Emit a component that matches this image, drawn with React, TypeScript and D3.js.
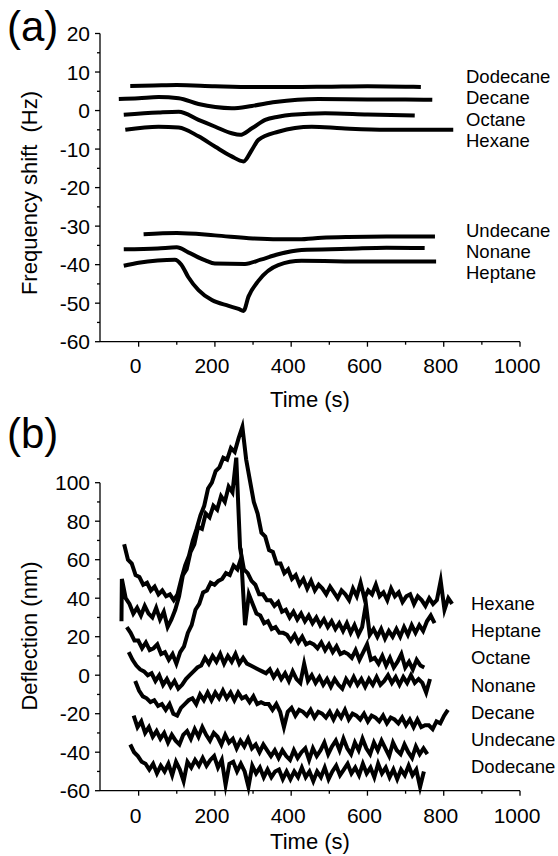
import React from 'react';
import * as d3 from 'd3';

const W = 558;
const H = 856;
const FONT = "'Liberation Sans', Arial, Helvetica, sans-serif";

// ---------- Panel (a): frequency shift (Hz) vs time (s) ----------
const aDodecane: [number, number][] = [[-22, 6.4], [40, 6.5], [100, 6.6], [200, 6.3], [300, 6.1], [400, 6.1], [500, 6.2], [600, 6.3], [700, 6.2], [740, 6.1]];
const aDecane: [number, number][] = [[-52, 3.0], [0, 3.2], [52, 3.5], [105, 3.2], [157, 1.7], [201, 0.9], [244, 0.6], [297, 1.2], [358, 2.2], [471, 3.0], [600, 2.9], [700, 2.9], [770, 2.8]];
const aOctane: [number, number][] = [[-39, -1.1], [52, -0.5], [105, -0.3], [157, -2.4], [201, -4.2], [244, -5.9], [266, -6.3], [297, -4.6], [332, -2.4], [366, -1.6], [401, -1.1], [489, -0.7], [600, -1.0], [724, -1.3]];
const aHexane: [number, number][] = [[-35, -5.0], [52, -4.2], [105, -4.4], [157, -6.7], [201, -9.4], [244, -11.9], [275, -13.2], [297, -10.2], [314, -7.6], [366, -5.5], [454, -4.2], [532, -4.6], [650, -5.0], [825, -5.0]];
const aUndecane: [number, number][] = [[13, -32.1], [100, -31.8], [200, -32.4], [300, -33.2], [366, -33.4], [420, -33.4], [480, -33.0], [550, -32.8], [650, -32.7], [777, -32.7]];
const aNonane: [number, number][] = [[-39, -36.0], [50, -35.8], [100, -35.5], [130, -36.8], [175, -38.9], [200, -39.7], [279, -39.8], [320, -38.7], [366, -37.3], [427, -36.2], [550, -35.9], [650, -35.6], [750, -35.7]];
const aHeptane: [number, number][] = [[-39, -40.3], [0, -39.5], [50, -38.9], [95, -38.7], [112, -40.0], [130, -43.2], [157, -46.6], [192, -49.2], [236, -50.7], [262, -51.5], [275, -52.0], [288, -48.3], [314, -44.2], [366, -40.1], [427, -39.0], [600, -39.2], [780, -39.2]];

const aTopNames = ['Dodecane', 'Decane', 'Octane', 'Hexane'];
const aBottomNames = ['Undecane', 'Nonane', 'Heptane'];
const aYTicks = [-60, -50, -40, -30, -20, -10, 0, 10, 20];
const aYMinor = [-55, -45, -35, -25, -15, -5, 5, 15];

// ---------- Panel (b): deflection (nm) vs time (s), sampled every 10 s ----------
const bStep = 10;
const bHexaneT0 = -38;
const bHexane = [68, 60, 58, 52, 51, 47, 48, 44, 46, 42, 44, 41, 42, 39, 42, 50, 57, 62, 70, 76, 83, 88, 97, 100, 106, 108, 113, 112, 118, 116, 123, 129, 112, 101, 90, 84, 74, 72, 65, 64, 58, 58, 53, 55, 50, 52, 47, 50, 45, 49, 44, 47, 45, 42, 46, 43, 40, 44, 42, 39, 45, 41, 48, 40, 44, 42, 47, 41, 43, 39, 45, 41, 43, 38, 41, 42, 37, 41, 39, 36, 40, 37, 39, 49, 34, 40, 37];
const bHeptaneLead: [number, number][] = [[-45, 28]];
const bHeptaneT0 = -44;
const bHeptane = [50, 40, 37, 32, 35, 31, 36, 32, 30, 35, 29, 33, 25, 29, 34, 41, 52, 55, 64, 68, 77, 76, 84, 82, 88, 86, 93, 90, 98, 95, 113, 66, 55, 53, 49, 47, 42, 42, 39, 39, 36, 38, 33, 34, 30, 33, 29, 32, 28, 31, 27, 30, 26, 29, 25, 28, 24, 27, 23, 27, 22, 26, 21, 25, 37, 21, 24, 20, 24, 19, 23, 20, 24, 20, 25, 21, 26, 22, 26, 23, 28, 31, 27];
const bOctaneT0 = -31;
const bOctane = [25, 22, 18, 18, 14, 17, 13, 14, 16, 11, 12, 8, 11, 6, 12, 15, 22, 26, 34, 37, 43, 44, 48, 47, 49, 50, 53, 52, 57, 55, 61, 26, 42, 37, 32, 31, 27, 28, 24, 25, 22, 22, 21, 18, 21, 17, 20, 16, 17, 16, 14, 17, 13, 16, 12, 15, 11, 12, 11, 9, 13, 8, 12, 16, 8, 9, 6, 10, 5, 9, 4, 7, 11, 4, 7, 3, 8, 5, 4];
const bNonaneT0 = -26;
const bNonane = [12, 8, 5, 3, 2, 0, 1, -3, 0, -5, -2, -6, -3, -7, -5, -2, 0, 2, 4, 5, 9, 6, 10, 7, 11, 6, 10, 7, 11, 6, 9, 6, 5, 4, 3, 2, 1, 3, -1, 2, -2, 1, -3, 2, -2, -4, 6, -3, 0, -4, -1, -5, -2, -6, -2, -5, -7, -2, -5, -1, -5, -2, -6, -2, -5, -1, -5, -3, 0, -4, -1, -5, -1, -4, 0, -4, -2, -4, -9, -2];
const bDecaneT0 = -9;
const bDecane = [-3, -8, -11, -12, -14, -13, -16, -15, -18, -15, -20, -21, -17, -15, -13, -12, -15, -10, -13, -9, -13, -9, -12, -8, -12, -9, -13, -9, -12, -11, -14, -11, -15, -14, -15, -15, -18, -15, -19, -27, -19, -17, -21, -18, -19, -21, -18, -22, -19, -20, -22, -19, -23, -19, -22, -18, -23, -20, -21, -23, -20, -24, -21, -22, -24, -21, -25, -22, -23, -25, -22, -26, -23, -27, -23, -27, -26, -26, -28, -24, -25, -21, -18];
const bUndecaneT0 = -13;
const bUndecane = [-21, -27, -24, -30, -27, -32, -29, -33, -30, -35, -31, -34, -36, -31, -29, -33, -28, -32, -27, -31, -34, -30, -32, -36, -31, -35, -33, -38, -34, -37, -33, -38, -36, -40, -36, -39, -42, -39, -43, -39, -42, -44, -39, -43, -40, -38, -44, -38, -42, -39, -35, -41, -37, -34, -39, -33, -38, -41, -35, -39, -33, -38, -41, -35, -39, -34, -38, -42, -35, -39, -41, -36, -40, -43, -37, -41, -38, -41];
const bDodecaneT0 = -22;
const bDodecane = [-36, -40, -42, -45, -46, -49, -46, -51, -47, -50, -46, -52, -45, -49, -55, -45, -48, -44, -47, -43, -47, -44, -42, -48, -44, -57, -46, -45, -50, -46, -50, -58, -47, -51, -48, -53, -49, -53, -50, -49, -54, -50, -54, -50, -53, -48, -53, -50, -55, -50, -53, -48, -54, -50, -47, -52, -49, -46, -51, -48, -52, -46, -51, -48, -53, -46, -51, -48, -53, -49, -54, -49, -52, -47, -52, -49, -58, -50];

const bNames = ['Hexane', 'Heptane', 'Octane', 'Nonane', 'Decane', 'Undecane', 'Dodecane'];
const bYTicks = [-60, -40, -20, 0, 20, 40, 60, 80, 100];
const bYMinor = [-50, -30, -10, 10, 30, 50, 70, 90];

const xTicks = [0, 200, 400, 600, 800, 1000];
const xMinor = [100, 300, 500, 700, 900];

// ---------- scales ----------
const xScale = d3.scaleLinear().domain([-100, 1000]).range([100.5, 520]);
const yA = d3.scaleLinear().domain([-60, 20]).range([341.7, 33.5]);
const yB = d3.scaleLinear().domain([-60, 100]).range([790.7, 482.7]);

function sampled(t0: number, vals: number[], lead: [number, number][] = []): [number, number][] {
  return [...lead, ...vals.map((v, i) => [t0 + i * bStep, v] as [number, number])];
}

const lineA = d3.line<[number, number]>().x(d => xScale(d[0])).y(d => yA(d[1])).curve(d3.curveMonotoneX);
const lineB = d3.line<[number, number]>().x(d => xScale(d[0])).y(d => yB(d[1]));

const aSeries = [aDodecane, aDecane, aOctane, aHexane, aUndecane, aNonane, aHeptane];
const bSeries = [
  sampled(bHexaneT0, bHexane),
  sampled(bHeptaneT0, bHeptane, bHeptaneLead),
  sampled(bOctaneT0, bOctane),
  sampled(bNonaneT0, bNonane),
  sampled(bDecaneT0, bDecane),
  sampled(bUndecaneT0, bUndecane),
  sampled(bDodecaneT0, bDodecane),
];

function XAxis({ y, labelY, titleY }: { y: number; labelY: number; titleY: number }) {
  return (
    <g>
      <line x1={100} x2={520} y1={y} y2={y} stroke="#000" strokeWidth={1.3} />
      {xTicks.map(t => (
        <g key={t}>
          <line x1={xScale(t)} x2={xScale(t)} y1={y} y2={y + 5} stroke="#000" strokeWidth={1.3} />
          <text x={xScale(t) - 3} y={labelY} textAnchor="middle" fontSize={21}>{t}</text>
        </g>
      ))}
      {xMinor.map(t => (
        <line key={t} x1={xScale(t)} x2={xScale(t)} y1={y} y2={y + 3} stroke="#000" strokeWidth={1.3} />
      ))}
      <text x={310} y={titleY} textAnchor="middle" fontSize={22}>Time (s)</text>
    </g>
  );
}

function YAxis({ scale, ticks, minor }: { scale: d3.ScaleLinear<number, number>; ticks: number[]; minor: number[] }) {
  const [d0, d1] = scale.domain();
  return (
    <g>
      <line x1={100} x2={100} y1={scale(d0)} y2={scale(d1)} stroke="#000" strokeWidth={1.3} />
      {ticks.map(t => (
        <g key={t}>
          <line x1={95} x2={100} y1={scale(t)} y2={scale(t)} stroke="#000" strokeWidth={1.3} />
          <text x={90} y={scale(t) + 7.5} textAnchor="end" fontSize={21}>{t < 0 ? '-' + Math.abs(t) : String(t)}</text>
        </g>
      ))}
      {minor.map(t => (
        <line key={t} x1={97} x2={100} y1={scale(t)} y2={scale(t)} stroke="#000" strokeWidth={1.3} />
      ))}
    </g>
  );
}

export default function App() {
  return (
    <svg width={W} height={H} viewBox={`0 0 ${W} ${H}`} style={{ position: 'absolute', left: 0, top: 0, background: '#fff' }} fontFamily={FONT} fill="#000">
      <rect x={0} y={0} width={W} height={H} fill="#fff" />

      {/* Panel (a) */}
      <text x={7} y={41} fontSize={42}>(a)</text>
      <YAxis scale={yA} ticks={aYTicks} minor={aYMinor} />
      <XAxis y={341.7} labelY={372.5} titleY={406.5} />
      <text transform="translate(37,193) rotate(-90)" textAnchor="middle" fontSize={22} style={{ whiteSpace: 'pre' }}>{'Frequency shift  (Hz)'}</text>
      {aSeries.map((s, i) => (
        <path key={i} d={lineA(s) || ''} fill="none" stroke="#000" strokeWidth={4} strokeLinejoin="round" />
      ))}
      {aTopNames.map((n, i) => (
        <text key={n} x={466} y={83.3 + i * 21.1} fontSize={18.5}>{n}</text>
      ))}
      {aBottomNames.map((n, i) => (
        <text key={n} x={466} y={237.3 + i * 21} fontSize={18.5}>{n}</text>
      ))}

      {/* Panel (b) */}
      <text x={7} y={448} fontSize={42}>(b)</text>
      <YAxis scale={yB} ticks={bYTicks} minor={bYMinor} />
      <XAxis y={790.7} labelY={822.5} titleY={849} />
      <text transform="translate(37,636) rotate(-90)" textAnchor="middle" fontSize={22}>Deflection (nm)</text>
      {bSeries.map((s, i) => (
        <path key={i} d={lineB(s) || ''} fill="none" stroke="#000" strokeWidth={4} strokeLinejoin="miter" strokeMiterlimit={8} />
      ))}
      {bNames.map((n, i) => (
        <text key={n} x={471} y={610 + i * 27.2} fontSize={18.5}>{n}</text>
      ))}
    </svg>
  );
}
